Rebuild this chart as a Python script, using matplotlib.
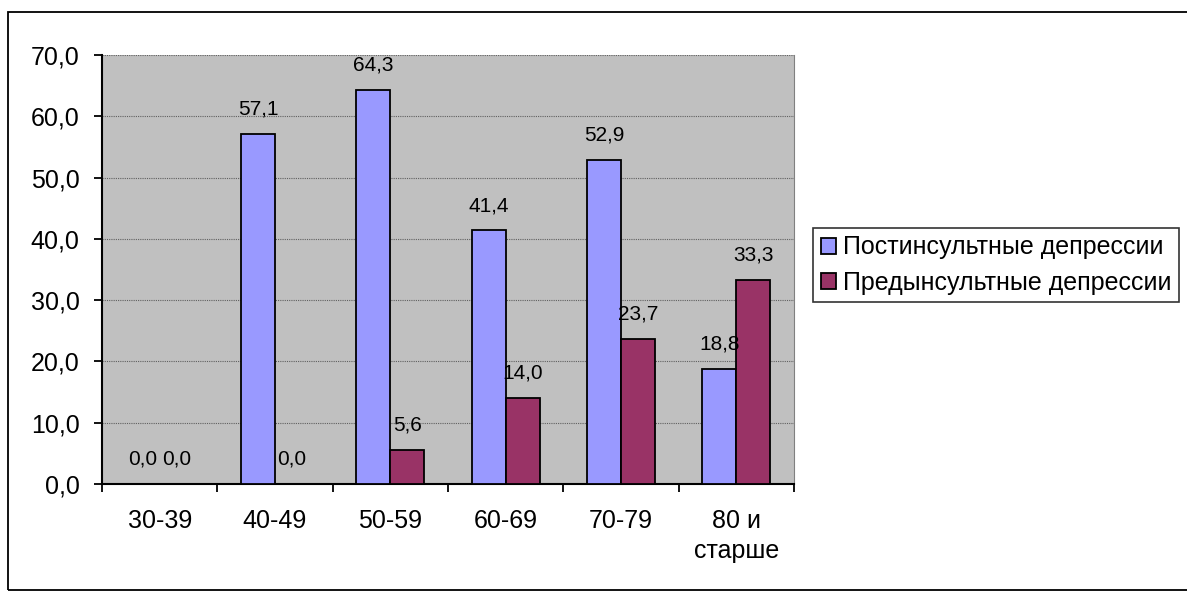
import matplotlib.pyplot as plt
import numpy as np
from matplotlib.patches import Rectangle

plt.rcParams['font.family'] = ['Liberation Sans', 'DejaVu Sans']

categories = ['30-39', '40-49', '50-59', '60-69', '70-79', '80 и\nстарше']
post = [0.0, 57.1, 64.3, 41.4, 52.9, 18.8]
pre = [0.0, 0.0, 5.6, 14.0, 23.7, 33.3]
series_names = ['Постинсультные депрессии', 'Предынсультные депрессии']
yticks = [0, 10, 20, 30, 40, 50, 60, 70]


def fmt(v):
    return f"{v:.1f}".replace('.', ',')


fig = plt.figure(figsize=(11.87, 5.92), dpi=100)
ax = fig.add_axes([0.0859, 0.1824, 0.583, 0.7247])
ax.set_facecolor('#C0C0C0')

x = np.arange(len(categories))
w = 0.295
b1 = ax.bar(x - w / 2, post, w, color='#9999FF', edgecolor='black', linewidth=1.3, zorder=3)
b2 = ax.bar(x + w / 2, pre, w, color='#993366', edgecolor='black', linewidth=1.3, zorder=3)

for bars, vals in ((b1, post), (b2, pre)):
    for r, v in zip(bars, vals):
        ax.annotate(fmt(v), (r.get_x() + r.get_width() / 2, v), xytext=(0, 11),
                    textcoords='offset points', ha='center', va='bottom', fontsize=15)

ax.set_xlim(-0.5, len(categories) - 0.5)
ax.set_ylim(0, 70)
ax.set_yticks(yticks)
ax.set_yticklabels([fmt(v) for v in yticks], fontsize=18)
ax.yaxis.grid(True, color='#606060', linestyle=(0, (1, 1)), linewidth=0.8, zorder=1)

ax.set_xticks(np.arange(len(categories) + 1) - 0.5)
ax.set_xticklabels([])
ax.set_xticks(x, minor=True)
ax.set_xticklabels(categories, minor=True, fontsize=18, linespacing=1.3)
ax.tick_params(axis='x', which='minor', length=0, pad=18)
ax.tick_params(axis='x', which='major', length=6, width=1.3, direction='out')
ax.tick_params(axis='y', length=6, width=1.3, direction='out', pad=10)

for s in ('left', 'bottom'):
    ax.spines[s].set_linewidth(1.5)
ax.spines['right'].set_color('#808080')
ax.spines['top'].set_visible(False)

leg = fig.legend([b1, b2], series_names, loc='upper left', bbox_to_anchor=(0.685, 0.615),
                 fontsize=18, frameon=True, fancybox=False, edgecolor='black',
                 handlelength=0.6, handleheight=0.6, handletextpad=0.3,
                 borderpad=0.3, labelspacing=0.45, borderaxespad=0)
leg.get_frame().set_linewidth(1.2)

fig.patches.append(Rectangle((8 / 1187, 1 - 590 / 592), 1.2, (590 - 12) / 592,
                             transform=fig.transFigure, fill=False, edgecolor='black',
                             linewidth=1.3, clip_on=False))

fig.savefig('out.png', dpi=100)
